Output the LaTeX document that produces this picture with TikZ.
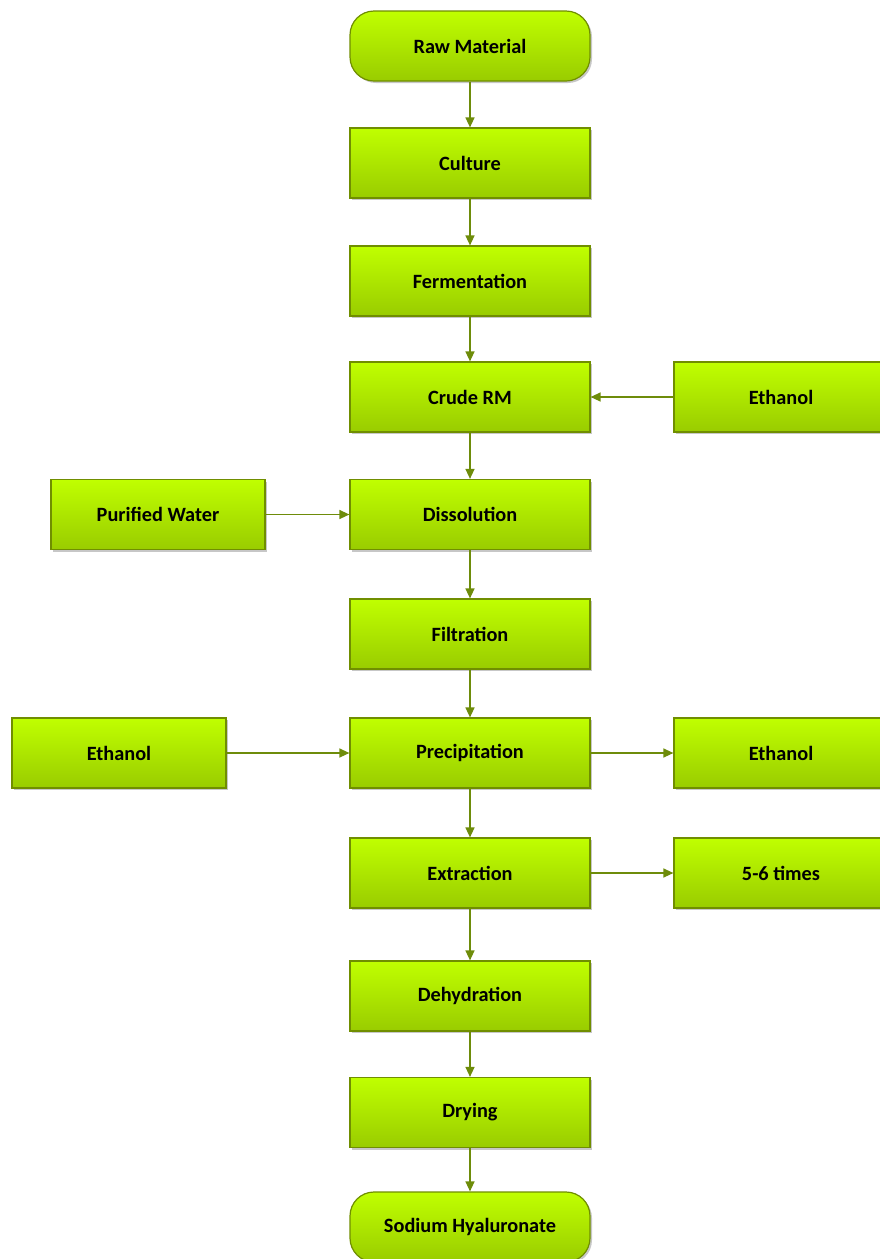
\documentclass[tikz,border=0pt]{standalone}
\usepackage{fontspec}
\setmainfont{Carlito}
\usetikzlibrary{shadows,arrows.meta}
\definecolor{boxtop}{RGB}{192,255,0}
\definecolor{boxbot}{RGB}{153,204,0}
\definecolor{boxline}{RGB}{112,142,0}
\definecolor{arrowc}{RGB}{110,140,10}
\tikzset{
  procbox/.style={draw=boxline, line width=1.2pt, top color=boxtop, bottom color=boxbot,
    minimum height=70pt, font=\bfseries\fontsize{20.3}{24}\selectfont, text=black,
    drop shadow={shadow xshift=2pt, shadow yshift=-2pt, opacity=0.22, fill=black}},
  mainbox/.style={procbox, minimum width=240pt},
  sidebox/.style={procbox, minimum width=214pt},
  termbox/.style={mainbox, rounded corners=24pt},
  flow/.style={draw=arrowc, line width=1.4pt, -{Triangle[length=10pt,width=9pt]}}
}
\begin{document}
\begin{tikzpicture}[x=1pt,y=-1pt]
\useasboundingbox (0,0) rectangle (880,1259);
\node[termbox] (raw) at (470,46) {Raw Material};
\node[mainbox] (cult) at (470,163) {Culture};
\node[mainbox] (ferm) at (470,281) {Fermentation};
\node[mainbox] (crude) at (470,397) {Crude RM};
\node[mainbox] (diss) at (470,514.5) {Dissolution};
\node[mainbox] (filt) at (470,634) {Filtration};
\node[mainbox] (prec) at (470,753) {Precipitation};
\node[mainbox] (extr) at (470,873) {Extraction};
\node[mainbox] (dehy) at (470,996) {Dehydration};
\node[mainbox] (dry) at (470,1112.5) {Drying};
\node[termbox] (sod) at (470,1227) {Sodium Hyaluronate};
\node[sidebox] (eth1) at (781,397) {Ethanol};
\node[sidebox] (water) at (158,514.5) {Purified Water};
\node[sidebox] (eth2) at (119,753) {Ethanol};
\node[sidebox] (eth3) at (781,753) {Ethanol};
\node[sidebox] (times) at (781,873) {5-6 times};
\draw[flow] (raw) -- (cult);
\draw[flow] (cult) -- (ferm);
\draw[flow] (ferm) -- (crude);
\draw[flow] (crude) -- (diss);
\draw[flow] (diss) -- (filt);
\draw[flow] (filt) -- (prec);
\draw[flow] (prec) -- (extr);
\draw[flow] (extr) -- (dehy);
\draw[flow] (dehy) -- (dry);
\draw[flow] (dry) -- (sod);
\draw[flow] (eth1) -- (crude);
\draw[flow] (water) -- (diss);
\draw[flow] (eth2) -- (prec);
\draw[flow] (prec) -- (eth3);
\draw[flow] (extr) -- (times);
\end{tikzpicture}
\end{document}
